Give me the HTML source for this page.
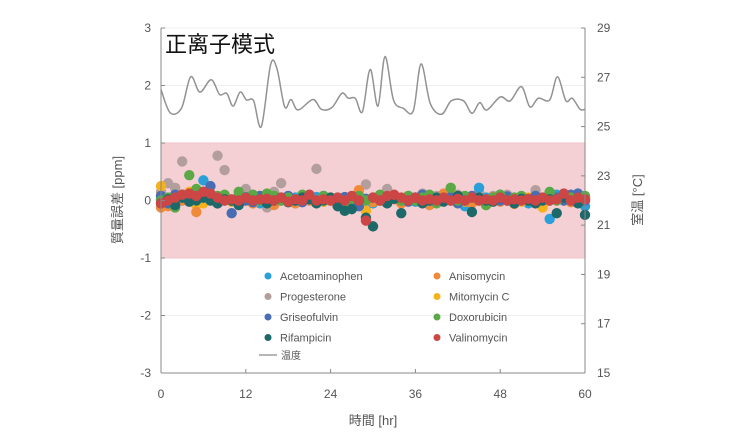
<!DOCTYPE html>
<html><head><meta charset="utf-8">
<style>
body{margin:0;background:#fff;}
svg{display:block;font-family:"Liberation Sans","Noto Sans CJK JP",sans-serif;}
</style></head>
<body>
<svg id="chart" width="754" height="441">
<rect x="0" y="0" width="754" height="441" fill="#fff"/>
<g id="grid"></g>
<rect id="band" fill="#f4d0d4" stroke="#efc2c7"/>
<g id="dots"></g>
<path id="temp" fill="none" stroke="#929292" stroke-width="1.5"/>
<g id="axes"></g>
<text x="165" y="52" font-size="22" fill="#111">正离子模式</text>
<text x="373" y="425" font-size="13" fill="#555" text-anchor="middle">時間 [hr]</text>
<text transform="translate(122,200) rotate(-90)" font-size="13" fill="#555" text-anchor="middle">質量誤差 [ppm]</text>
<text transform="translate(642,200) rotate(-90)" font-size="13" fill="#555" text-anchor="middle">室温 [°C]</text>
<g id="legend"></g>
</svg>
<script>
const xTicks=[0,12,24,36,48,60];
const yTicks=[3,2,1,0,-1,-2,-3];
const y2Ticks=[29,27,25,23,21,19,17,15];
const seriesNames=["Acetoaminophen","Anisomycin","Progesterone","Mitomycin C","Griseofulvin","Doxorubicin","Rifampicin","Valinomycin"];
const seriesColors=["#2a9fd8","#ef8a3a","#b39e9e","#f5b21a","#4a6cb3","#5aa846","#1d6868","#cc4646"];
const tempTimes=[0,1.3,2.9,4.2,5.5,7.1,8.3,9.3,10.2,11.2,12.1,13.1,14.2,15.5,16.4,17.5,18.4,19.4,21.5,22.7,24.2,25.6,26.5,27.5,28.5,29.6,30.7,31.7,32.9,34.3,35.7,36.8,38.1,39.7,41.1,42.8,44.0,45.1,46.1,48.0,49.4,51.0,52.2,53.4,55.0,56.1,57.3,58.2,59.3,60];
const tempValues=[26.5,25.56,25.75,27.02,26.4,26.9,26.3,26.35,25.83,26.4,26.08,26.05,25.0,27.5,27.36,25.8,26.1,25.67,26.1,25.7,25.78,26.35,26.15,26.15,25.6,27.32,25.83,27.84,26.08,25.74,25.64,27.54,25.94,25.5,26.05,26.05,25.54,25.97,25.67,26.2,26.04,26.62,25.8,26.15,26.08,27.02,26.05,26.15,25.7,25.7];
const s0=[0.02,-0.05,0.08,0.0,0.05,0.1,0.35,0.1,0.0,0.05,-0.02,0.03,0.06,0.0,-0.05,0.02,0.08,0.0,-0.03,0.05,0.02,0.0,0.06,-0.02,0.04,0.0,-0.08,0.0,0.05,0.02,-0.05,0.0,0.06,0.02,0.0,0.08,-0.02,0.04,0.0,0.05,0.0,0.12,0.03,-0.1,0.02,0.22,0.05,0.0,0.1,0.02,0.0,0.06,-0.05,0.08,0.0,-0.32,0.1,0.02,0.0,0.06,-0.1];
const s1=[-0.12,-0.1,0.05,0.0,0.1,-0.2,0.1,0.02,-0.05,0.08,0.0,-0.03,0.05,-0.05,0.02,0.0,-0.08,0.03,0.0,-0.05,0.04,0.0,-0.02,0.05,0.0,-0.08,0.02,0.0,0.18,0.0,-0.03,0.05,0.0,0.02,-0.05,0.0,0.05,0.0,-0.08,0.02,0.12,0.0,0.03,0.0,-0.05,0.02,0.0,0.06,-0.02,0.0,-0.06,0.04,0.0,-0.05,0.02,0.0,0.05,0.0,-0.03,0.05,0.0];
const s2=[0.15,0.3,0.22,0.68,0.05,0.1,0.02,0.0,0.78,0.53,0.0,0.08,0.2,0.05,0.0,-0.12,0.15,0.3,0.0,-0.05,0.05,0.1,0.55,0.0,0.05,0.02,0.0,-0.05,0.1,0.28,0.05,0.0,0.2,0.08,0.0,0.05,0.05,0.12,0.0,0.08,0.0,0.05,0.1,0.0,0.02,0.15,0.0,0.08,0.0,0.1,0.05,0.0,0.05,0.18,0.02,0.0,0.05,0.1,0.0,0.08,0.05];
const s3=[0.25,0.0,-0.05,0.1,0.15,-0.08,-0.05,0.1,0.0,0.05,-0.02,0.03,0.0,-0.05,0.08,0.02,0.0,0.05,-0.03,0.0,0.05,0.03,0.0,-0.02,0.05,0.0,-0.05,0.02,0.0,-0.18,0.05,0.0,0.02,0.05,-0.03,0.0,0.05,0.0,-0.05,0.02,0.0,0.15,0.0,-0.02,0.05,0.0,-0.08,0.0,0.05,0.02,0.0,-0.02,0.05,0.0,-0.12,0.02,0.0,0.05,0.0,-0.03,0.02];
const s4=[0.08,-0.05,0.1,0.05,0.0,0.12,0.15,0.25,-0.05,0.0,-0.22,0.05,0.0,-0.03,0.08,0.05,0.0,0.02,0.08,0.0,-0.03,0.05,0.0,0.08,0.02,0.0,0.06,0.0,-0.1,0.03,0.05,0.02,0.0,0.07,0.0,-0.02,0.05,0.1,0.0,0.03,0.0,0.06,-0.05,0.0,0.08,0.02,0.0,0.05,0.0,0.07,-0.03,0.05,0.0,0.08,0.02,0.0,0.05,0.0,0.1,0.12,0.0];
const s5=[0.0,0.05,-0.12,0.1,0.44,0.2,0.05,0.12,0.08,0.1,0.0,0.15,0.05,0.1,0.0,0.12,0.08,0.0,0.05,0.0,0.1,0.05,0.0,0.08,0.0,0.05,-0.05,0.03,0.08,0.0,0.05,0.1,-0.03,0.05,0.0,0.08,0.0,0.05,0.1,-0.05,0.05,0.22,0.0,0.08,0.05,0.0,-0.08,0.05,0.1,0.0,0.05,0.08,0.0,-0.03,0.05,0.15,0.0,0.1,0.05,0.0,0.08];
const s6=[-0.05,0.02,-0.08,0.05,-0.02,0.0,0.05,0.0,-0.05,0.02,0.0,-0.08,0.05,0.0,0.02,-0.05,0.0,0.05,-0.03,0.0,0.05,0.02,-0.05,0.0,0.05,-0.1,-0.18,-0.15,0.0,-0.3,-0.45,0.0,-0.05,0.03,-0.22,0.0,0.05,-0.05,0.0,0.05,-0.02,0.0,0.08,0.0,-0.2,0.05,0.0,-0.02,0.05,0.0,-0.05,0.03,0.0,-0.05,0.0,0.02,-0.22,0.05,0.0,-0.05,-0.25];
const s7=[-0.05,0.0,0.05,0.1,0.12,0.08,0.15,0.12,0.05,0.0,0.02,0.0,0.05,0.0,0.02,0.03,0.0,0.05,-0.02,0.02,0.0,0.1,0.0,0.02,0.0,0.05,0.0,0.08,0.0,-0.35,0.05,0.0,0.08,0.1,0.05,0.0,0.05,0.0,0.02,0.0,0.05,0.0,0.03,0.0,0.05,0.0,0.02,0.0,0.05,0.0,0.02,0.0,0.03,0.0,0.05,0.0,0.02,0.12,0.0,0.05,0.02];
const seriesData=[s0,s1,s2,s3,s4,s5,s6,s7];

const NS="http://www.w3.org/2000/svg";
const X0=161,X1=585,YT=28,YB=373;
function xs(t){return X0+(t-0)/60*(X1-X0);}
function ys(v){return YT+(3-v)/6*(YB-YT);}
function y2s(v){return YT+(29-v)/14*(YB-YT);}
function mk(tag,attrs,parent){const e=document.createElementNS(NS,tag);for(const k in attrs)e.setAttribute(k,attrs[k]);parent.appendChild(e);return e;}

const grid=document.getElementById('grid');
yTicks.forEach(v=>{
  const l=mk('line',{x1:X0,x2:X1,y1:ys(v),y2:ys(v),stroke:'#efefef','stroke-width':1},grid);
  
  
});
const band=document.getElementById('band');
band.setAttribute('x',X0);band.setAttribute('y',ys(1));band.setAttribute('width',X1-X0);band.setAttribute('height',ys(-1)-ys(1));

const dots=document.getElementById('dots');
const order=[2,0,3,1,4,5,6,7];
order.forEach(si=>{
  seriesData[si].forEach((v,i)=>{
    const c=mk('circle',{cx:xs(i),cy:ys(v),r:5.2,fill:seriesColors[si]},dots);
    
    
  });
});

const pts=tempTimes.map((t,i)=>[xs(t),y2s(tempValues[i])]);
let d='M'+pts[0][0]+','+pts[0][1];
for(let i=0;i<pts.length-1;i++){
  const p0=pts[Math.max(0,i-1)],p1=pts[i],p2=pts[i+1],p3=pts[Math.min(pts.length-1,i+2)];
  const c1=[p1[0]+(p2[0]-p0[0])/6,p1[1]+(p2[1]-p0[1])/6];
  const c2=[p2[0]-(p3[0]-p1[0])/6,p2[1]-(p3[1]-p1[1])/6];
  d+=' C'+c1+' '+c2+' '+p2;
}
document.getElementById('temp').setAttribute('d',d);

const axes=document.getElementById('axes');
let a=mk('line',{x1:X0,x2:X0,y1:YT,y2:YB,stroke:'#888'},axes);

a=mk('line',{x1:X1,x2:X1,y1:YT,y2:YB,stroke:'#888'},axes);

a=mk('line',{x1:X0,x2:X1,y1:YB,y2:YB,stroke:'#888'},axes);

yTicks.forEach(v=>{
  const t=mk('text',{x:151,y:ys(v)+4,'font-size':12,fill:'#555','text-anchor':'end'},axes);t.textContent=v;
  
  mk('line',{x1:X0,x2:X0+4,y1:ys(v),y2:ys(v),stroke:'#888'},axes);
});
y2Ticks.forEach(v=>{
  const t=mk('text',{x:597,y:y2s(v)+4,'font-size':12,fill:'#555'},axes);t.textContent=v;
  
  mk('line',{x1:X1-4,x2:X1,y1:y2s(v),y2:y2s(v),stroke:'#888'},axes);
});
xTicks.forEach(v=>{
  const t=mk('text',{x:xs(v),y:398,'font-size':12,fill:'#555','text-anchor':'middle'},axes);t.textContent=v;
  
  mk('line',{x1:xs(v),x2:xs(v),y1:YB-4,y2:YB,stroke:'#888'},axes);
});

const lg=document.getElementById('legend');
const legOrder=[0,1,2,3,4,5,6,7];
legOrder.forEach((si,k)=>{
  const col=k%2,row=Math.floor(k/2);
  const x=268+col*169,y=276+row*20.5;
  const c=mk('circle',{cx:x,cy:y,r:3.5,fill:seriesColors[si]},lg);
  
  const t=mk('text',{x:x+12,y:y+4,'font-size':11,fill:'#555'},lg);t.textContent=seriesNames[si];
  
});
const ll=mk('line',{x1:259,x2:277,y1:355,y2:355,stroke:'#8a8a8a','stroke-width':1.2},lg);

const lt=mk('text',{x:281,y:359,'font-size':10,fill:'#555'},lg);lt.textContent='温度';

</script>
</body></html>
